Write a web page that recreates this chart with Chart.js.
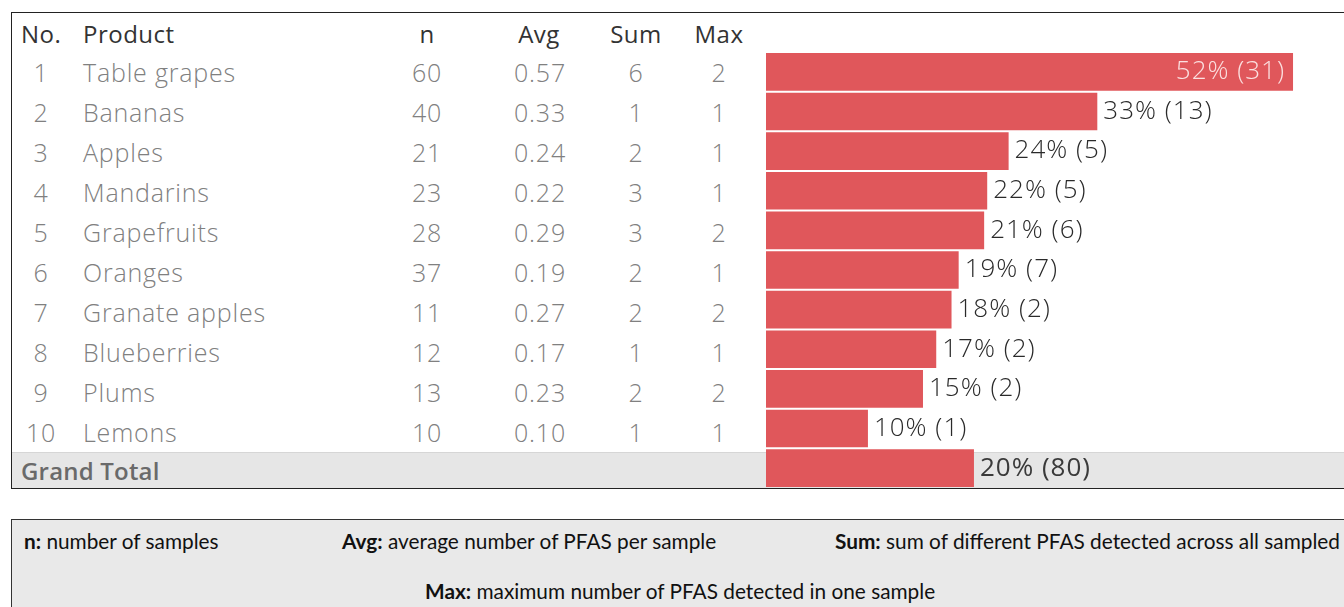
<!DOCTYPE html>
<html>
<head>
<meta charset="utf-8">
<script src="https://cdn.jsdelivr.net/npm/chart.js@4/dist/chart.umd.min.js"></script>
<style>
  body { margin: 0; width: 1344px; height: 607px; background: #fff; overflow: hidden; position: relative; font-family: "Open Sans", Lato, sans-serif; }
  .frame { position: absolute; left: 11px; top: 12px; width: 1333px; height: 477px; border: 1.5px solid #222; border-right: none; box-sizing: border-box; z-index: 5; pointer-events: none; }
  .total-bg { position: absolute; left: 12px; top: 452px; width: 1332px; height: 36px; background: #e6e6e6; border-top: 1px solid #d6d6d6; box-sizing: border-box; }
  .cell { position: absolute; font-size: 25px; line-height: 32px; color: #808080; font-weight: 300; letter-spacing: 0.8px; white-space: nowrap; }
  .hdr { color: #333; font-weight: 500; font-size: 24px; letter-spacing: 0.5px; }
  .ctr { transform: translateX(-50%); }
  .total { color: #6a6a6a; font-weight: 600; font-size: 24px; letter-spacing: 0.2px; }
  #wrap { position: absolute; left: 766px; top: 52px; width: 578px; height: 436px; }
  .legend { position: absolute; left: 11px; top: 519px; width: 1333px; height: 100px; background: #e9e9e9; border: 1.5px solid #333; border-right: none; box-sizing: border-box; font-family: Lato, sans-serif; font-size: 20.8px; color: #111; }
  .legend span { position: absolute; white-space: nowrap; }
  .legend b { font-weight: 700; }
</style>
</head>
<body>
<div class="frame"></div>
<div class="total-bg"></div>
<div id="table"></div>
<div id="wrap"><canvas id="bars"></canvas></div>
<div class="legend">
  <span style="left:12px; top:8px;"><b>n:</b> number of samples</span>
  <span style="left:330px; top:8px;"><b>Avg:</b> average number of PFAS per sample</span>
  <span style="left:823px; top:8px;"><b>Sum:</b> sum of different PFAS detected across all sampled</span>
  <span style="left:413px; top:58px;"><b>Max:</b> maximum number of PFAS detected in one sample</span>
</div>
<script>
// table data
const products = ['Table grapes', 'Bananas', 'Apples', 'Mandarins', 'Grapefruits', 'Oranges', 'Granate apples', 'Blueberries', 'Plums', 'Lemons'];
const nValues = [60, 40, 21, 23, 28, 37, 11, 12, 13, 10];
const avgValues = ['0.57', '0.33', '0.24', '0.22', '0.29', '0.19', '0.27', '0.17', '0.23', '0.10'];
const sumValues = [6, 1, 2, 3, 3, 2, 2, 1, 2, 1];
const maxValues = [2, 1, 1, 1, 2, 1, 2, 1, 2, 1];

// bar data (last one is the grand total)
const barLabels = products.concat(['Grand Total']);
const pctValues = [51.7, 32.5, 23.8, 21.7, 21.4, 18.9, 18.2, 16.7, 15.4, 10.0, 20.4];
const countValues = [31, 13, 5, 5, 6, 7, 2, 2, 2, 1, 80];

const table = document.getElementById('table');
const addCell = (text, x, y, cls) => {
    const d = document.createElement('div');
    d.className = 'cell ' + (cls || '');
    d.textContent = text;
    d.style.left = x + 'px';
    d.style.top = (y - 16) + 'px';
    table.appendChild(d);
}

// header
addCell('No.', 21, 34, 'hdr');
addCell('Product', 83, 34, 'hdr');
addCell('n', 427, 34, 'hdr ctr');
addCell('Avg', 539, 34, 'hdr ctr');
addCell('Sum', 636, 34, 'hdr ctr');
addCell('Max', 719, 34, 'hdr ctr');

for (let i = 0; i < products.length; i++) {
    const y = 72 + i * 40;
    addCell(String(i + 1), 41, y, 'ctr');
    addCell(products[i], 83, y);
    addCell(nValues[i], 427, y, 'ctr');
    addCell(avgValues[i], 540, y, 'ctr');
    addCell(sumValues[i], 636, y, 'ctr');
    addCell(maxValues[i], 719, y, 'ctr');
}
addCell('Grand Total', 21, 471, 'total');

// value labels next to / inside the bars
const barText = {
    id: 'barText',
    afterDatasetsDraw(chart) {
        const ctx = chart.ctx;
        const meta = chart.getDatasetMeta(0);
        ctx.save();
        ctx.textBaseline = 'middle';
        ctx.letterSpacing = '1px';
        meta.data.forEach((bar, i) => {
            const txt = Math.round(pctValues[i]) + '% (' + countValues[i] + ')';
            const last = i === pctValues.length - 1;
            ctx.font = (last ? '500 ' : '300 ') + '26px "Open Sans", Lato, sans-serif';
            if (i === 0) {
                ctx.fillStyle = '#fbe0e0';
                ctx.textAlign = 'right';
                ctx.fillText(txt, bar.x - 8, bar.y);
            } else {
                ctx.fillStyle = last ? '#3a3a3a' : '#2a2a2a';
                ctx.textAlign = 'left';
                ctx.fillText(txt, bar.x + 6, bar.y);
            }
        });
        ctx.restore();
    }
}

new Chart(document.getElementById('bars'), {
    type: 'bar',
    data: {
        labels: barLabels,
        datasets: [{
            data: pctValues,
            backgroundColor: '#e0575b',
            categoryPercentage: 1,
            barPercentage: 0.95
        }]
    },
    options: {
        indexAxis: 'y',
        responsive: true,
        maintainAspectRatio: false,
        animation: false,
        layout: { padding: 0 },
        plugins: { legend: { display: false }, tooltip: { enabled: false } },
        scales: {
            x: { display: false, min: 0, max: 56.7 },
            y: { display: false }
        }
    },
    plugins: [barText]
});
</script>
</body>
</html>
